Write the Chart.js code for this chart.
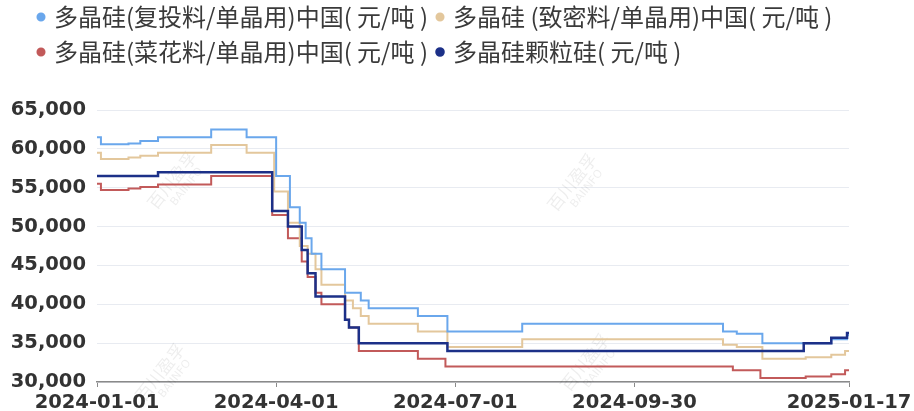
<!DOCTYPE html>
<html>
<head>
<meta charset="utf-8">
<script src="https://cdn.jsdelivr.net/npm/chart.js@4.4.1/dist/chart.umd.min.js"></script>
<style>
  html, body { margin: 0; padding: 0; background: #fff; }
</style>
</head>
<body>
<canvas id="chart" width="914" height="411"></canvas>
<script>
// days counted from 2024-01-01, each point = new price from that day on
const fuTouDays   = [0, 2, 16, 22, 31, 58, 76, 91, 98, 103, 106, 109, 114, 126, 134, 138, 163, 178, 216, 318, 325, 338, 373, 381, 382];
const fuTouValues = [61500, 60600, 60700, 61000, 61500, 62500, 61500, 56500, 52500, 50500, 48500, 46500, 44500, 41500, 40500, 39500, 38500, 36500, 37500, 36500, 36200, 35000, 35500, 36000, 36000];

const zhiMiDays   = [0, 2, 16, 22, 31, 58, 76, 90, 97, 103, 107, 111, 114, 126, 130, 134, 138, 163, 178, 216, 318, 325, 338, 360, 373, 380, 382];
const zhiMiValues = [59500, 58700, 58900, 59100, 59500, 60500, 59500, 54500, 50500, 47500, 46500, 44500, 42500, 40500, 39500, 38500, 37500, 36500, 34500, 35500, 34800, 34500, 33000, 33200, 33500, 34000, 34000];

const caiHuaDays   = [0, 2, 16, 22, 31, 58, 89, 97, 104, 107, 111, 114, 126, 128, 133, 163, 177, 323, 337, 360, 373, 380, 382];
const caiHuaValues = [55500, 54700, 54900, 55100, 55400, 56500, 51500, 48500, 45500, 43500, 41500, 40000, 38000, 37000, 34000, 33000, 32000, 31500, 30500, 30700, 31000, 31500, 31500];

const keLiDays   = [0, 31, 89, 97, 104, 107, 111, 126, 128, 133, 178, 359, 373, 381, 382];
const keLiValues = [56500, 57000, 52000, 50000, 47000, 44000, 41000, 38000, 37000, 35000, 34000, 35000, 35700, 36300, 36300];

const seriesNames = [
  "多晶硅(复投料/单晶用)中国( 元/吨 )",
  "多晶硅 (致密料/单晶用)中国( 元/吨 )",
  "多晶硅(菜花料/单晶用)中国( 元/吨 )",
  "多晶硅颗粒硅( 元/吨 )"
];
const seriesColors = ["#6aa7ec", "#e3c79c", "#c25a5a", "#1c3088"];

const xTickDays = [0, 91, 182, 273, 382];
const xTickLabels = ["2024-01-01", "2024-04-01", "2024-07-01", "2024-09-30", "2025-01-17"];

const toPoints = (days, values) => days.map((d, i) => ({ x: d, y: values[i] }));

const allDays = [fuTouDays, zhiMiDays, caiHuaDays, keLiDays];
const allValues = [fuTouValues, zhiMiValues, caiHuaValues, keLiValues];

// move the legend a bit right / up, like in the original
const legendShift = {
  id: "legendShift",
  afterLayout(chart) {
    const lg = chart.legend;
    lg.left += 25;
    lg.right += 25;
    lg.top -= 6;
    lg.bottom -= 6;
  },
};

// faint "百川盈孚 BAIINFO" stamps
const watermark = {
  id: "watermark",
  beforeDatasetsDraw(chart) {
    const c = chart.ctx;
    const spots = [[172, 180], [160, 372], [572, 182], [585, 362]];
    c.save();
    c.fillStyle = "rgba(0,0,0,0.07)";
    c.textAlign = "center";
    c.textBaseline = "middle";
    spots.forEach(([x, y]) => {
      c.save();
      c.translate(x, y);
      c.rotate(-0.9);
      c.font = "17px 'Noto Sans CJK SC'";
      c.fillText("百川盈孚", 0, 0);
      c.font = "11px 'DejaVu Sans'";
      c.fillText("BAIINFO", 4, 16);
      c.restore();
    });
    c.restore();
  },
};

const ctx = document.getElementById("chart").getContext("2d");
new Chart(ctx, {
  type: "line",
  data: {
    datasets: seriesNames.map((name, i) => ({
      label: name,
      data: toPoints(allDays[i], allValues[i]),
      borderColor: seriesColors[i],
      backgroundColor: seriesColors[i],
      borderWidth: i === 3 ? 2.5 : 2,
      stepped: true,
      pointRadius: 0,
      fill: false,
      order: i === 3 ? 0 : 1,
    })),
  },
  plugins: [legendShift, watermark],
  options: {
    responsive: false,
    animation: false,
    devicePixelRatio: 1,
    layout: { padding: { top: 0, left: 4, right: 65, bottom: 0 } },
    plugins: {
      tooltip: { enabled: false },
      legend: {
        position: "top",
        align: "start",
        labels: {
          usePointStyle: true,
          pointStyle: "circle",
          boxWidth: 2,
          boxHeight: 5,
          padding: 11,
          color: "#3a3a3a",
          font: { family: "'Noto Sans CJK SC', sans-serif", size: 24 },
          sort: (a, b) => a.datasetIndex - b.datasetIndex,
        },
      },
      // empty title used only as a gap between legend and plot
      title: {
        display: true,
        text: "",
        weight: 500,
        font: { size: 1, lineHeight: 1 },
        padding: { top: 0, bottom: 29 },
      },
    },
    scales: {
      x: {
        type: "linear",
        min: 0,
        max: 382,
        afterBuildTicks: (scale) => {
          scale.ticks = xTickDays.map((v) => ({ value: v }));
        },
        afterFit: (scale) => {
          scale.paddingLeft = 0;
          scale.paddingRight = 0;
          scale.height = 29;
        },
        grid: {
          drawOnChartArea: false,
          drawTicks: true,
          tickLength: 5,
          tickColor: "#8a8a8a",
        },
        border: { color: "#8a8a8a", width: 1.5 },
        ticks: {
          autoSkip: false,
          maxRotation: 0,
          padding: 4,
          color: "#333",
          font: { family: "'DejaVu Sans', sans-serif", size: 19.5, weight: "bold" },
          callback: (v) => xTickLabels[xTickDays.indexOf(v)],
        },
      },
      y: {
        min: 30000,
        max: 65000,
        afterFit: (scale) => {
          scale.width = 93;
        },
        grid: { color: "#e8ebf1", lineWidth: 1, drawTicks: false },
        border: { display: false },
        ticks: {
          stepSize: 5000,
          padding: 11,
          color: "#333",
          font: { family: "'DejaVu Sans', sans-serif", size: 19.5, weight: "bold" },
          callback: (v) => String(v).replace(/\B(?=(\d{3})+(?!\d))/g, ","),
        },
      },
    },
  },
});
</script>
</body>
</html>
